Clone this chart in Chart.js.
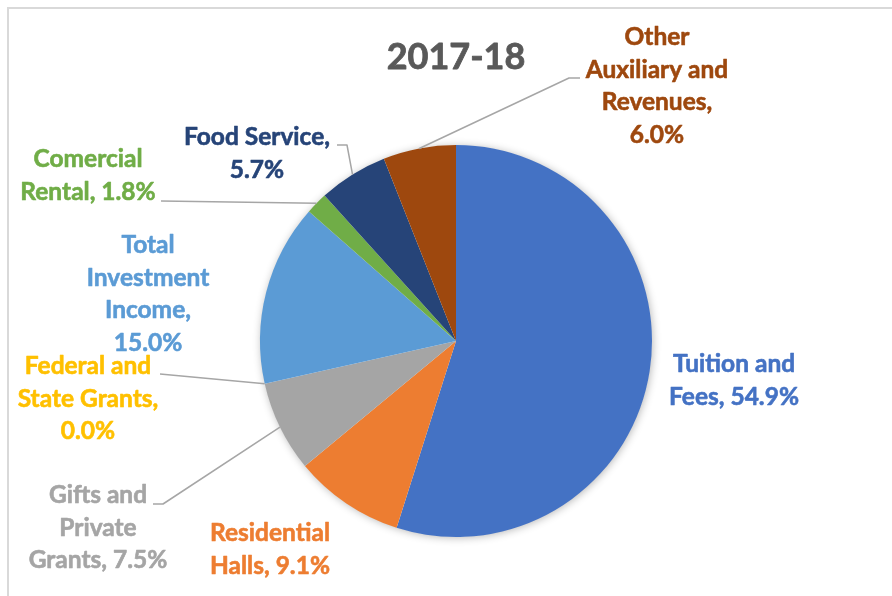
<!DOCTYPE html>
<html>
<head>
<meta charset="utf-8">
<script src="https://cdn.jsdelivr.net/npm/chart.js@4.4.0/dist/chart.umd.min.js"></script>
<style>
  html, body { margin: 0; padding: 0; background: #fff; overflow: hidden; }
  canvas { display: block; }
</style>
</head>
<body>
<canvas id="pieChart" width="892" height="596"></canvas>
<script>
// Revenue mix, 2017-18 (percent of total)
const chartTitle = '2017-18';
const categories = [
    'Tuition and Fees',
    'Residential Halls',
    'Gifts and Private Grants',
    'Federal and State Grants',
    'Total Investment Income',
    'Comercial Rental',
    'Food Service',
    'Other Auxiliary and Revenues'
];
const shares = [54.9, 9.1, 7.5, 0.0, 15.0, 1.8, 5.7, 6.0];
const sliceColors = ['#4472C4', '#ED7D31', '#A5A5A5', '#FFC000', '#5B9BD5', '#70AD47', '#264478', '#9E480E'];

// Where each data label sits: centre x, first baseline, words per line,
// and optional leader line start / elbow (the end is taken from the slice)
const labelLayout = [
    { x: 734, y: 372, lines: [2, 2] },
    { x: 270, y: 541, lines: [1, 2] },
    { x: 98,  y: 503, lines: [2, 1, 2], leader: [[153, 504], [163, 504]] },
    { x: 88,  y: 374, lines: [2, 2, 1], leader: [[160, 374]], edge: 'start' },
    { x: 148, y: 253, lines: [1, 1, 1, 1] },
    { x: 88,  y: 167, lines: [1, 2], leader: [[161, 201]] },
    { x: 257, y: 145, lines: [2, 1], leader: [[337, 145], [347, 145]] },
    { x: 657, y: 45,  lines: [1, 2, 1, 1], leader: [[580, 78], [569, 78]] }
];

const FONT = 'Lato, "Open Sans", sans-serif';
const LINE_HEIGHT = 32.5;

// Split a label into lines by word counts
function wrapLabel(text, counts) {
    const words = text.split(' ');
    const out = [];
    let i = 0;
    counts.forEach(n => {
        out.push(words.slice(i, i + n).join(' '));
        i += n;
    });
    return out;
}

// Frame, pie shadow, title, labels and leader lines
const decorPlugin = {
    id: 'decor',
    beforeDraw(chart) {
        const ctx = chart.ctx;
        ctx.save();
        ctx.fillStyle = '#ffffff';
        ctx.fillRect(0, 0, chart.width, chart.height);
        ctx.strokeStyle = '#D9D9D9';
        ctx.lineWidth = 2;
        ctx.strokeRect(8, 8, chart.width + 20, chart.height + 20);
        ctx.restore();
    },
    beforeDatasetsDraw(chart) {
        const arc = chart.getDatasetMeta(0).data[0];
        if (!arc) return;
        const ctx = chart.ctx;
        ctx.save();
        ctx.shadowColor = 'rgba(0,0,0,0.3)';
        ctx.shadowBlur = 9;
        ctx.shadowOffsetX = 1;
        ctx.shadowOffsetY = 1;
        ctx.fillStyle = '#ffffff';
        ctx.beginPath();
        ctx.arc(arc.x, arc.y, arc.outerRadius - 0.5, 0, Math.PI * 2);
        ctx.fill();
        ctx.restore();
    },
    afterDatasetsDraw(chart) {
        const ctx = chart.ctx;
        const arcs = chart.getDatasetMeta(0).data;
        ctx.save();
        ctx.textAlign = 'center';
        ctx.textBaseline = 'alphabetic';
        ctx.lineJoin = 'round';

        // Title
        ctx.font = 'bold 36px ' + FONT;
        ctx.fillStyle = '#595959';
        ctx.strokeStyle = '#595959';
        ctx.lineWidth = 0.8;
        ctx.fillText(chartTitle, 456, 69);
        ctx.strokeText(chartTitle, 456, 69);

        // Leader lines
        ctx.strokeStyle = '#A6A6A6';
        ctx.lineWidth = 1.5;
        labelLayout.forEach((lay, i) => {
            if (!lay.leader) return;
            const a = arcs[i];
            const ang = lay.edge === 'start' ? a.startAngle : (a.startAngle + a.endAngle) / 2;
            const ex = a.x + Math.cos(ang) * a.outerRadius;
            const ey = a.y + Math.sin(ang) * a.outerRadius;
            ctx.beginPath();
            ctx.moveTo(lay.leader[0][0], lay.leader[0][1]);
            lay.leader.slice(1).forEach(p => ctx.lineTo(p[0], p[1]));
            ctx.lineTo(ex, ey);
            ctx.stroke();
        });

        // Data labels (thin outline thickens the strokes a little)
        ctx.font = 'bold 24.5px ' + FONT;
        ctx.lineWidth = 0.6;
        labelLayout.forEach((lay, i) => {
            const text = categories[i] + ', ' + shares[i].toFixed(1) + '%';
            const lines = wrapLabel(text, lay.lines);
            ctx.fillStyle = sliceColors[i];
            ctx.strokeStyle = sliceColors[i];
            lines.forEach((line, k) => {
                ctx.fillText(line, lay.x, lay.y + k * LINE_HEIGHT);
                ctx.strokeText(line, lay.x, lay.y + k * LINE_HEIGHT);
            });
        });
        ctx.restore();
    }
};

const ctx = document.getElementById('pieChart').getContext('2d');
const pieChart = new Chart(ctx, {
    type: 'pie',
    data: {
        labels: categories,
        datasets: [{
            data: shares,
            backgroundColor: sliceColors,
            borderWidth: 0
        }]
    },
    options: {
        responsive: false,
        animation: false,
        layout: {
            padding: { left: 60, right: 40, top: 145, bottom: 59 }
        },
        plugins: {
            legend: { display: false },
            title: { display: false },
            tooltip: { enabled: false }
        }
    },
    plugins: [decorPlugin]
});
</script>
</body>
</html>
